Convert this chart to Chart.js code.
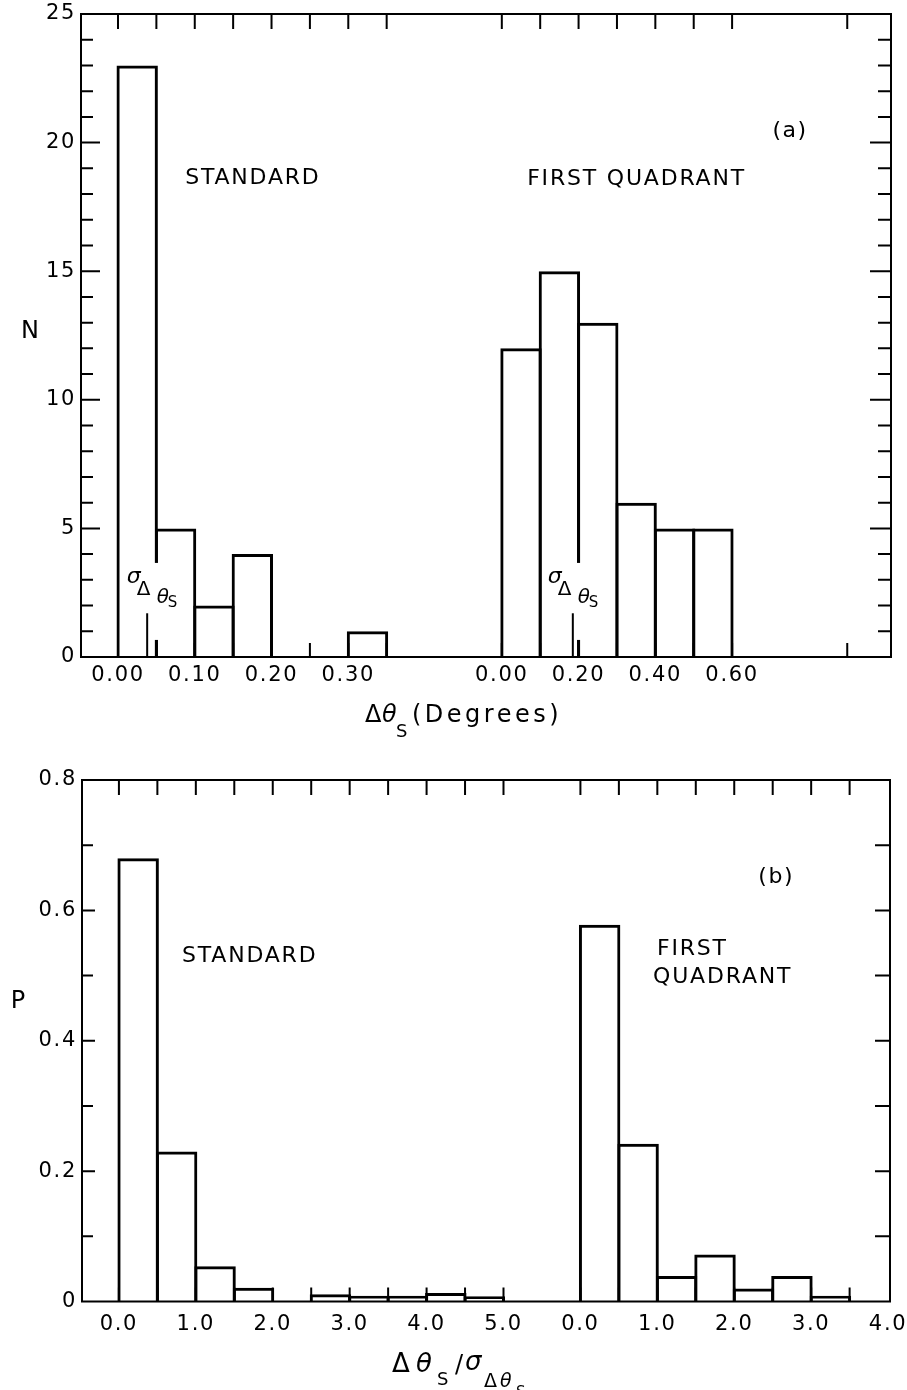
<!doctype html>
<html lang="en">
<head>
<meta charset="utf-8">
<title>Δθs distributions</title>
<script src="https://cdn.jsdelivr.net/npm/chart.js@4.4.1/dist/chart.umd.min.js"></script>
<style>
    html, body { margin: 0; padding: 0; background: #fff; }
    #wrap { position: relative; width: 907px; height: 1390px; }
    canvas { position: absolute; left: 0; }
    #chartA { top: 0; }
    #chartB { top: 740px; }
</style>
</head>
<body>
<div id="wrap">
    <canvas id="chartA" width="907" height="740"></canvas>
    <canvas id="chartB" width="907" height="650"></canvas>
</div>
<script>
    // (a) number of cases N per bin of Δθs (degrees)
    const stdBinStartA = [0.00, 0.05, 0.10, 0.15, 0.30]
    const stdCountA = [23, 5, 2, 4, 1]
    const fqBinStartA = [0.0, 0.1, 0.2, 0.3, 0.4, 0.5]
    const fqCountA = [12, 15, 13, 6, 5, 5]
    const stdTickLabelsA = [0.00, 0.10, 0.20, 0.30]
    const fqTickLabelsA = [0.00, 0.20, 0.40, 0.60]
    const stdMarksA = [0, 0.05, 0.10, 0.15, 0.20, 0.25, 0.30, 0.35]
    const fqMarksA = [0, 0.1, 0.2, 0.3, 0.4, 0.5, 0.6, 0.9]
    const yTicksA = [0, 5, 10, 15, 20, 25]
    const sigmaStdA = 0.038
    const sigmaFqA = 0.185

    // (b) probability P per bin of Δθs / σ
    const stdBinStartB = [0.0, 0.5, 1.0, 1.5, 2.0, 2.5, 3.0, 3.5, 4.0, 4.5]
    const stdProbB = [0.68, 0.23, 0.054, 0.021, 0, 0.011, 0.009, 0.009, 0.013, 0.008]
    const fqBinStartB = [0.0, 0.5, 1.0, 1.5, 2.0, 2.5, 3.0]
    const fqProbB = [0.578, 0.242, 0.039, 0.072, 0.020, 0.039, 0.009]
    const stdTickLabelsB = [0, 1, 2, 3, 4, 5]
    const fqTickLabelsB = [0, 1, 2, 3, 4]
    const stdMarksB = [0, 0.5, 1, 1.5, 2, 2.5, 3, 3.5, 4, 4.5, 5]
    const fqMarksB = [0, 0.5, 1, 1.5, 2, 2.5, 3, 3.5]
    const yTicksB = [0, 0.2, 0.4, 0.6, 0.8]

    // both panels share one x axis split in two sections
    const uStdA = v => v / 0.05
    const uFqA = v => 10 + v / 0.1
    const uStdB = v => v / 0.5
    const uFqB = v => 12 + v / 0.5

    Chart.defaults.font.family = 'DejaVu Sans'
    Chart.defaults.color = '#000'

    function FramePlugin(f) {
        return {
            id: 'frame',
            beforeDraw(chart) { chart.ctx.letterSpacing = '1.7px' },
            afterDraw(chart) {
                const { ctx, chartArea: a, scales: { x, y } } = chart
                ctx.save()
                ctx.strokeStyle = '#000'
                ctx.lineWidth = 2
                ctx.strokeRect(a.left, a.top, a.right - a.left, a.bottom - a.top)
                ctx.beginPath()
                f.xMarks.forEach(u => {
                    const px = x.getPixelForValue(u)
                    ctx.moveTo(px, a.top); ctx.lineTo(px, a.top + 15)
                    ctx.moveTo(px, a.bottom); ctx.lineTo(px, a.bottom - 14)
                })
                for (let k = 1; k < f.yCount; k++) {
                    const py = y.getPixelForValue(k * f.yStep)
                    const major = k % f.majorEvery === 0
                    ctx.moveTo(a.left, py); ctx.lineTo(a.left + (major ? f.leftMajor : f.leftMinor), py)
                    ctx.moveTo(a.right, py); ctx.lineTo(a.right - (major ? f.rightMajor : f.rightMinor), py)
                }
                ctx.stroke()
                ctx.restore()
            }
        }
    }

    function text(ctx, t, x, y, font, spacing, align) {
        ctx.font = font
        ctx.letterSpacing = (spacing || 0) + 'px'
        ctx.textAlign = align || 'left'
        ctx.fillText(t, x, y)
    }

    function sigmaLabel(ctx, x0, y0) {
        text(ctx, 'σ', x0, y0, 'italic 22px DejaVu Sans')
        text(ctx, 'Δ', x0 + 10, y0 + 12, '20px DejaVu Sans')
        text(ctx, 'θ', x0 + 30, y0 + 20, 'italic 20px DejaVu Sans')
        text(ctx, 'S', x0 + 41, y0 + 24, '15px DejaVu Sans')
    }

    function HistChart(el, o) {
        return new Chart(el, {
            type: 'bar',
            data: {
                datasets: o.bars.map(d => ({
                    data: d,
                    borderColor: '#000',
                    borderWidth: 3,
                    backgroundColor: 'rgba(0,0,0,0)',
                    borderSkipped: 'start',
                    inflateAmount: 0,
                    grouped: false,
                    categoryPercentage: 1,
                    barPercentage: 1.078
                }))
            },
            options: {
                responsive: false,
                animation: false,
                events: [],
                layout: { padding: o.pad },
                plugins: { legend: { display: false }, tooltip: { enabled: false } },
                scales: {
                    x: {
                        type: 'linear', min: o.xMin, max: o.xMax, bounds: 'data', offset: false,
                        grid: { display: false, drawTicks: false }, border: { display: false },
                        afterBuildTicks: s => { s.ticks = o.xLabels.map(l => ({ value: l.value, text: l.text })) },
                        ticks: { autoSkip: false, maxRotation: 0, padding: o.xPad, font: { size: 21 }, callback: (v, i, t) => t[i].text },
                        afterFit: s => { s.height = o.xHeight; s.paddingLeft = 0; s.paddingRight = 0 }
                    },
                    y: {
                        type: 'linear', min: 0, max: o.yMax, bounds: 'data',
                        grid: { display: false, drawTicks: false }, border: { display: false },
                        afterBuildTicks: s => { s.ticks = o.yLabels.map(l => ({ value: l.value, text: l.text })) },
                        ticks: { padding: 5, font: { size: 21 }, callback: (v, i, t) => t[i].text },
                        afterFit: s => { s.width = o.yWidth; s.paddingTop = 0; s.paddingBottom = 0 }
                    }
                }
            },
            plugins: [FramePlugin(o.frame), o.notes]
        })
    }

    HistChart(document.getElementById('chartA'), {
        bars: [
            stdBinStartA.map((s, i) => ({ x: uStdA(s + 0.025), y: stdCountA[i] })),
            fqBinStartA.map((s, i) => ({ x: uFqA(s + 0.05), y: fqCountA[i] }))
        ],
        pad: { left: 0, top: 14, right: 16, bottom: 0 },
        xMin: -0.964, xMax: 20.14, xPad: 6, xHeight: 83, yWidth: 81, yMax: 25,
        xLabels: stdTickLabelsA.map(v => ({ value: uStdA(v), text: v.toFixed(2) }))
            .concat(fqTickLabelsA.map(v => ({ value: uFqA(v), text: v.toFixed(2) }))),
        yLabels: yTicksA.map(v => ({ value: v, text: String(v) })),
        frame: {
            xMarks: stdMarksA.map(uStdA).concat(fqMarksA.map(uFqA)),
            yCount: 25, yStep: 1, majorEvery: 5,
            leftMajor: 19, leftMinor: 12, rightMajor: 21, rightMinor: 13
        },
        notes: {
            id: 'notesA',
            afterDraw(chart) {
                const { ctx, scales: { x, y } } = chart
                ctx.save()
                ctx.fillStyle = '#000'
                ctx.textBaseline = 'alphabetic'
                text(ctx, 'STANDARD', x.getPixelForValue(1.75), y.getPixelForValue(18.4), '22px DejaVu Sans', 1.8)
                text(ctx, 'FIRST QUADRANT', x.getPixelForValue(10.66), y.getPixelForValue(18.35), '22px DejaVu Sans', 1.8)
                text(ctx, '(a)', x.getPixelForValue(17.51), y.getPixelForValue(20.2), '22px DejaVu Sans', 1.5, 'center')

                // sigma markers, label knocks out the bar edge behind it
                ;[[sigmaStdA, uStdA, 0.23], [sigmaFqA, uFqA, 11.2]].forEach(([sg, toU, lu]) => {
                    const x0 = x.getPixelForValue(lu), y0 = y.getPixelForValue(2.88)
                    ctx.fillStyle = '#fff'
                    ctx.fillRect(x0 + 27, y0 - 20, 29, 77)
                    const px = x.getPixelForValue(toU(sg))
                    ctx.strokeStyle = '#000'
                    ctx.lineWidth = 2
                    ctx.beginPath()
                    ctx.moveTo(px, y.getPixelForValue(0))
                    ctx.lineTo(px, y.getPixelForValue(1.7))
                    ctx.stroke()
                    ctx.fillStyle = '#000'
                    sigmaLabel(ctx, x0, y0)
                })

                text(ctx, 'N', 30, 338, '24px DejaVu Sans', 0, 'center')
                text(ctx, 'Δ', 365, 722, '24px DejaVu Sans')
                text(ctx, 'θ', 382, 722, 'italic 24px DejaVu Sans')
                text(ctx, 'S', 396, 737, '18px DejaVu Sans')
                text(ctx, '(Degrees)', 412, 722, '24px DejaVu Sans', 3.5)
                ctx.restore()
            }
        }
    })

    HistChart(document.getElementById('chartB'), {
        bars: [
            stdBinStartB.map((s, i) => ({ x: uStdB(s + 0.25), y: stdProbB[i] })),
            fqBinStartB.map((s, i) => ({ x: uFqB(s + 0.25), y: fqProbB[i] }))
        ],
        pad: { left: 0, top: 40, right: 17, bottom: 0 },
        xMin: -0.96, xMax: 20.05, xPad: 10, xHeight: 88.5, yWidth: 82, yMax: 0.8,
        xLabels: stdTickLabelsB.map(v => ({ value: uStdB(v), text: v.toFixed(1) }))
            .concat(fqTickLabelsB.map(v => ({ value: uFqB(v), text: v.toFixed(1) }))),
        yLabels: yTicksB.map(v => ({ value: v, text: v === 0 ? '0' : v.toFixed(1) })),
        frame: {
            xMarks: stdMarksB.map(uStdB).concat(fqMarksB.map(uFqB)),
            yCount: 8, yStep: 0.1, majorEvery: 2,
            leftMajor: 13, leftMinor: 11, rightMajor: 15, rightMinor: 15
        },
        notes: {
            id: 'notesB',
            afterDraw(chart) {
                const { ctx, scales: { x, y } } = chart
                ctx.save()
                ctx.fillStyle = '#000'
                ctx.textBaseline = 'alphabetic'
                text(ctx, 'STANDARD', x.getPixelForValue(1.64), y.getPixelForValue(0.521), '22px DejaVu Sans', 1.8)
                text(ctx, 'FIRST', x.getPixelForValue(13.99), y.getPixelForValue(0.532), '22px DejaVu Sans', 1.8)
                text(ctx, 'QUADRANT', x.getPixelForValue(13.89), y.getPixelForValue(0.489), '22px DejaVu Sans', 1.8)
                text(ctx, '(b)', x.getPixelForValue(17.09), y.getPixelForValue(0.642), '22px DejaVu Sans', 1.5, 'center')

                text(ctx, 'P', 18, 268, '24px DejaVu Sans', 0, 'center')
                text(ctx, 'Δ', 392, 632, '26px DejaVu Sans')
                text(ctx, 'θ', 416, 632, 'italic 26px DejaVu Sans')
                text(ctx, 'S', 437, 645, '18px DejaVu Sans')
                text(ctx, '/', 455, 632, '24px DejaVu Sans')
                text(ctx, 'σ', 465, 630, 'italic 26px DejaVu Sans')
                text(ctx, 'Δ', 484, 647, '19px DejaVu Sans')
                text(ctx, 'θ', 500, 647, 'italic 19px DejaVu Sans')
                text(ctx, 'S', 516, 657, '15px DejaVu Sans')
                ctx.restore()
            }
        }
    })
</script>
</body>
</html>
